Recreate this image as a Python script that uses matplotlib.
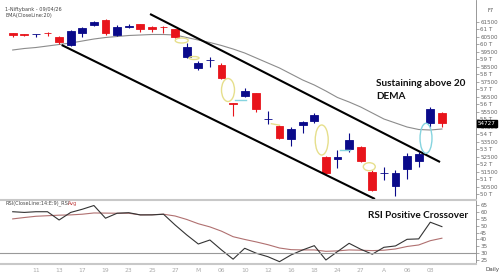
import matplotlib
matplotlib.use("Agg")
import matplotlib.pyplot as plt
from matplotlib.patches import Ellipse
from matplotlib.transforms import blended_transform_factory

# daily candles
opens = [60730, 60680, 60670, 60730, 60460, 59947, 60767, 61280, 61613, 60613,
         61127, 61327, 61127, 61130, 61000, 59167, 58433, 58940, 58613, 56060,
         56547, 56727, 54990, 54547, 53660, 54613, 54900, 52500, 52327, 52993,
         53167, 51500, 51390, 50547, 51660, 52213, 54767, 55433]
highs = [60770, 60710, 60710, 60810, 60547, 60947, 61167, 61547, 61660, 61280,
         61327, 61367, 61213, 61213, 61047, 60100, 58900, 59167, 58727, 56100,
         57060, 56767, 55567, 54613, 54500, 54880, 55393, 52547, 52947, 54060,
         53213, 51613, 51833, 51613, 52727, 52833, 55793, 55500]
lows = [60500, 60520, 60460, 60550, 60013, 59880, 60500, 61233, 60613, 60547,
        61060, 60813, 60813, 60727, 60447, 59060, 58280, 58500, 57660, 55213,
        56500, 55500, 54680, 53660, 53213, 54060, 54727, 51327, 51727, 52833,
        52167, 50213, 50947, 49880, 50993, 51793, 54500, 54500]
closes = [60640, 60600, 60680, 60720, 60127, 60900, 61100, 61460, 60727, 61127,
          61213, 61033, 60993, 61120, 60500, 59793, 58727, 58950, 57727, 56033,
          56900, 55660, 55000, 53727, 54327, 54833, 55280, 51393, 52500, 53613,
          52233, 50280, 51395, 51433, 52547, 52660, 55660, 54727]
ema20 = [59614, 59714, 59780, 59880, 59980, 60080, 60213, 60347, 60447, 60514,
         60580, 60614, 60647, 60647, 60614, 60447, 60280, 60114, 59914, 59680,
         59414, 59080, 58747, 58414, 58014, 57614, 57280, 56880, 56447, 56147,
         55814, 55414, 55014, 54747, 54480, 54314, 54280, 54347]
rsi = [60.1, 59.6, 60.1, 60.1, 54.1, 59.6, 61.9, 64.6, 55.4, 59.0,
       59.4, 57.8, 57.8, 58.3, 50.5, 43.3, 36.7, 39.6, 32.4, 25.7,
       33.6, 30.0, 27.5, 23.9, 28.8, 32.4, 35.5, 25.1, 31.2, 37.2,
       32.9, 29.3, 34.3, 35.3, 40.1, 40.4, 52.5, 49.3]
rsi_avg = [54.9, 55.9, 56.8, 57.2, 57.6, 57.8, 58.3, 59.2, 59.1, 59.0,
           59.0, 57.8, 57.9, 58.3, 57.0, 54.5, 51.4, 49.1, 46.0, 42.0,
           40.0, 38.2, 36.2, 33.8, 32.6, 32.4, 32.4, 31.4, 31.7, 32.4,
           32.2, 31.9, 32.2, 33.1, 34.9, 36.0, 39.1, 40.9]
date_labels = ["11", "13", "17", "19", "23", "25", "27", "M", "06", "10",
               "12", "16", "18", "24", "27", "A", "06", "08"]

# channel lines (candle index, price)
upper_line = [(11.84, 62013), (36.84, 52147)]
lower_line = [(4.22, 59947), (31.23, 49680)]

RED = "#e8141b"
NAVY = "#0a0a8a"
TICK_TXT = "#666666"

fig = plt.figure(figsize=(5, 2.8), dpi=100)
ax1 = fig.add_axes([0, 80 / 280, 476 / 500, 200 / 280])
ax2 = fig.add_axes([0, 16 / 280, 476 / 500, 64 / 280])

n = len(opens)
idx = list(range(n))

# candles
for i in idx:
    o, h, l, c = opens[i], highs[i], lows[i], closes[i]
    col = NAVY if c >= o else RED
    ax1.vlines(i, l, h, color=col, lw=0.8, zorder=3)
    body = max(abs(c - o), 30)
    ax1.bar(i, body, bottom=min(o, c), width=0.66, color=col,
            edgecolor=col, lw=0.6, zorder=4)

ax1.plot(idx, ema20, color="#8c8c8c", lw=0.8, zorder=2)

for line in (upper_line, lower_line):
    ax1.plot([p[0] for p in line], [p[1] for p in line], color="black",
             lw=1.5, solid_capstyle="butt", zorder=5)

# highlight marks
yel = "#e6df8c"
cyan = "#86d4df"
for cx, cy, w, hgt, col in [(14.57, 60247, 1.12, 333, yel),
                            (15.63, 59080, 0.86, 200, yel),
                            (18.56, 56947, 1.12, 1533, yel),
                            (26.64, 53614, 1.12, 2000, yel),
                            (30.74, 51833, 1.03, 533, yel),
                            (35.63, 53727, 1.03, 2000, cyan)]:
    ax1.add_patch(Ellipse((cx, cy), w, hgt, fill=False, edgecolor=col,
                          lw=1.0, zorder=6))
ax1.plot([22.3, 23.0], [54700, 54600], color=yel, lw=1.0, zorder=6)
ax1.plot([19.2, 20.1], [56280, 56280], color=cyan, lw=1.0, zorder=6)
ax1.plot([28.2, 29.1], [52947, 52947], color=cyan, lw=1.0, zorder=6)

ax1.set_xlim(-1.095, 39.94)
ax1.set_ylim(49614, 62947)
for s in ["top", "left", "bottom"]:
    ax1.spines[s].set_visible(False)
ax1.spines["right"].set_color("#888888")
ax1.spines["right"].set_linewidth(0.6)
ax1.set_xticks([])
ax1.yaxis.tick_right()
pticks = list(range(50000, 62000, 500))
ax1.set_yticks(pticks)
ax1.set_yticklabels([f"{v // 1000} T" if v % 1000 == 0 else str(v) for v in pticks])
ax1.tick_params(axis="y", labelsize=4.1, labelcolor=TICK_TXT, length=2,
                width=0.5, color="#888888", pad=1)

tr = blended_transform_factory(ax1.transAxes, ax1.transData)
ax1.text(1.004, closes[-1], f"{closes[-1]}", transform=tr, fontsize=4.1,
         color="white", va="center", ha="left",
         bbox=dict(boxstyle="square,pad=0.15", fc="black", ec="black"))

# RSI panel
ax2.plot(idx, rsi_avg, color="#b07070", lw=0.8)
ax2.plot(idx, rsi, color="#333333", lw=0.8)
ax2.axhline(30, color="#999999", lw=0.8)
ax2.set_xlim(-1.095, 39.94)
ax2.set_ylim(22.2, 68.6)
ax2.spines["left"].set_visible(False)
ax2.spines["top"].set_color("#c8c8c8")
ax2.spines["top"].set_linewidth(1.5)
ax2.spines["bottom"].set_color("#c8c8c8")
ax2.spines["bottom"].set_linewidth(1.5)
ax2.spines["right"].set_color("#888888")
ax2.spines["right"].set_linewidth(0.6)
ax2.yaxis.tick_right()
ax2.set_yticks(range(25, 70, 5))
ax2.tick_params(axis="y", labelsize=4.1, labelcolor=TICK_TXT, length=2,
                width=0.5, color="#888888", pad=1)
ax2.set_xticks(range(2, 2 + 2 * len(date_labels), 2))
ax2.set_xticklabels(date_labels)
ax2.tick_params(axis="x", labelsize=4.3, labelcolor="#aaaaaa", length=0, pad=3)

# texts
small = dict(fontsize=3.6, color="#444444", va="center")
fig.text(5 / 500, 1 - 9 / 280, "1-Niftybank - 09/04/26", **small)
fig.text(5 / 500, 1 - 16 / 280, "EMA(CloseLine:20)", **small)
fig.text(488 / 500, 1 - 10 / 280, "F7", **small)
fig.text(5 / 500, 1 - 203.5 / 280, "RSI(CloseLine:14:E:9)_RSI", **small)
fig.text(68 / 500, 1 - 203.5 / 280, "Avg", fontsize=3.6, color="#c04040",
         va="center")
fig.text(485 / 500, 1 - 270 / 280, "Daily", fontsize=4.1, color="#444444",
         va="center")

bold = dict(family="Lato", fontweight="bold", color="#111111", fontsize=7.2)
fig.text(376 / 500, 1 - 85.5 / 280, "Sustaining above 20", va="baseline", **bold)
fig.text(376 / 500, 1 - 99 / 280, "DEMA", va="baseline", **bold)
fig.text(368 / 500, 1 - 218.5 / 280, "RSI Positive Crossover", va="baseline",
         **bold)

fig.savefig("out.png", dpi=100)
